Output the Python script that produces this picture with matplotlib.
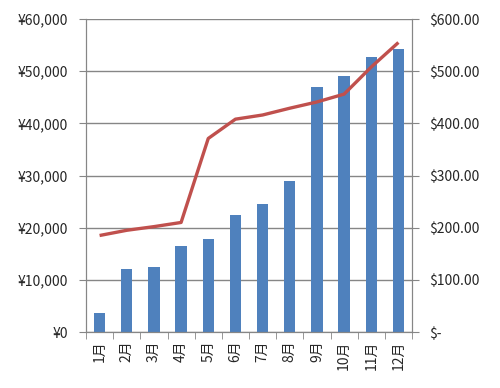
import matplotlib
matplotlib.use("Agg")
import matplotlib.pyplot as plt
from matplotlib.ticker import FuncFormatter

plt.rcParams['font.family'] = ['Noto Sans CJK JP', 'DejaVu Sans']

months = ["1月", "2月", "3月", "4月", "5月", "6月",
          "7月", "8月", "9月", "10月", "11月", "12月"]
yen_sales = [3700, 12000, 12500, 16400, 17900, 22500,
             24500, 28900, 47000, 49000, 52800, 54300]
usd_sales = [185, 195, 202, 210, 371, 408, 416, 429, 441, 456, 508, 555]

GRAY = "#868686"
BAR = "#4F81BD"
LINE = "#C0504D"
TXT = "#262626"

fig = plt.figure(figsize=(5.0, 3.88), dpi=100)
ax = fig.add_axes([0.172, 0.1443, 0.652, 0.8067])
x = list(range(len(months)))

ax.bar(x, yen_sales, width=0.42, color=BAR, zorder=2)
ax.set_xlim(-0.5, len(months) - 0.5)
ax.set_ylim(0, 60000)
ax.set_yticks(range(0, 60001, 10000))
ax.yaxis.set_major_formatter(FuncFormatter(lambda v, p: f"¥{int(v):,}"))
ax.grid(axis="y", color=GRAY, lw=1, zorder=0)
ax.set_axisbelow(True)

# category labels at centres, tick marks between categories
ax.set_xticks(x)
ax.set_xticklabels(months, rotation=90, fontsize=10, color=TXT)
ax.set_xticks([i - 0.5 for i in range(len(months) + 1)], minor=True)
ax.tick_params(axis="x", which="major", length=0, pad=6)
ax.tick_params(axis="x", which="minor", length=5, color=GRAY, direction="out")
ax.tick_params(axis="y", length=5, color=GRAY, labelsize=10, labelcolor=TXT, pad=8)

ax2 = ax.twinx()
ax2.plot(x, usd_sales, color=LINE, lw=2.4, solid_capstyle="butt", zorder=3)
ax2.set_ylim(0, 600)
ax2.set_yticks(range(0, 601, 100))
ax2.yaxis.set_major_formatter(
    FuncFormatter(lambda v, p: "$-" if v == 0 else f"${v:,.2f}"))
ax2.tick_params(axis="y", length=5, color=GRAY, labelsize=10, labelcolor=TXT, pad=7)

for a in (ax, ax2):
    for side in ("left", "right", "bottom"):
        a.spines[side].set_color(GRAY)
    a.spines["top"].set_visible(False)

fig.savefig("out.png", dpi=100)
